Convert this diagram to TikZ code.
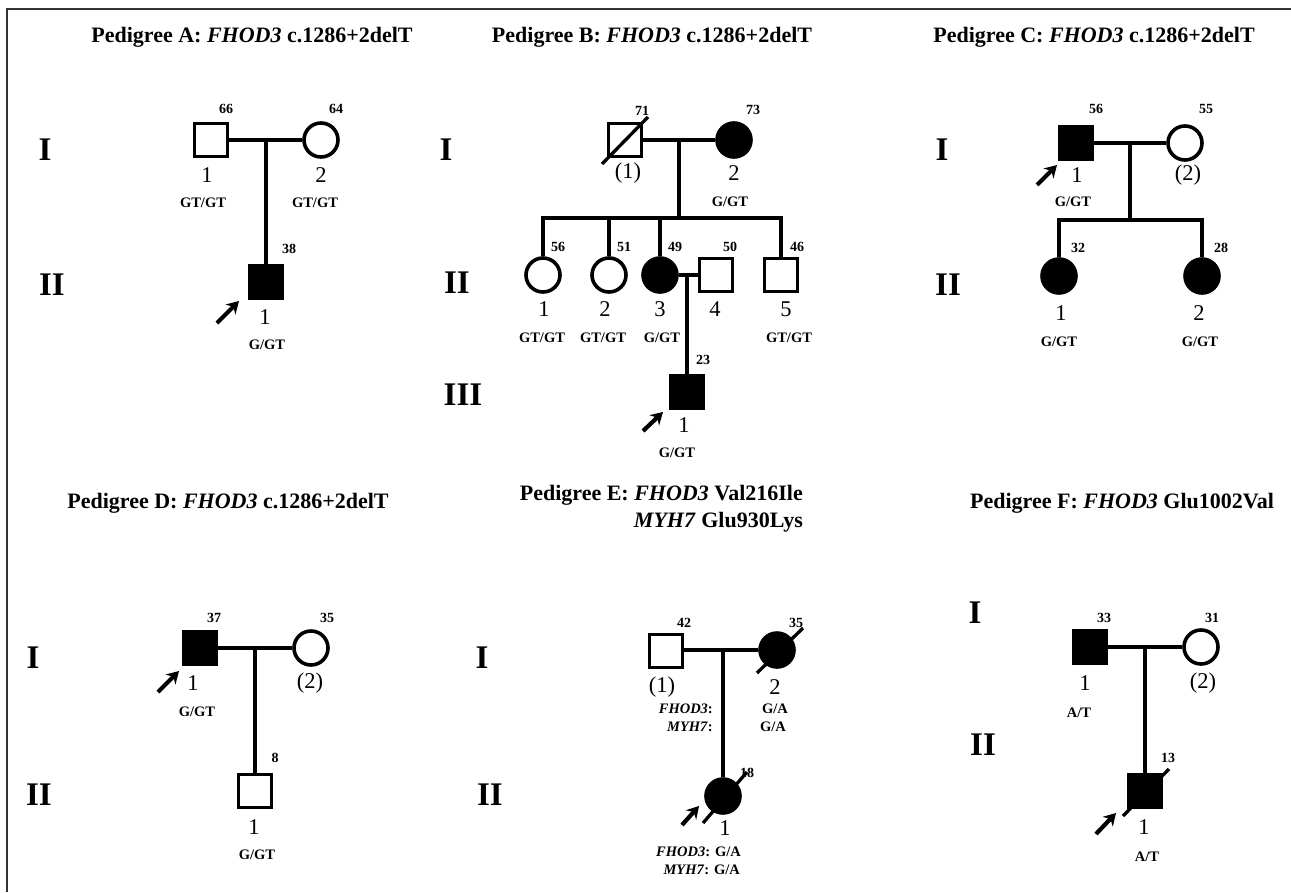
\documentclass[tikz,border=0pt]{standalone}
\usepackage{fontspec}
\setmainfont{Liberation Serif}
\usetikzlibrary{arrows.meta}
\begin{document}
\begin{tikzpicture}[x=1pt,y=-1pt,
  ml/.style={draw, rectangle, minimum size=33pt, line width=3.6pt, inner sep=0pt},
  fm/.style={draw, circle, minimum size=34pt, line width=3.6pt, inner sep=0pt},
  aff/.style={fill=black},
  ln/.style={line width=3.3pt},
  age/.style={font=\fontsize{14}{14}\selectfont\bfseries, inner sep=0pt},
  gt/.style={font=\fontsize{14.5}{14.5}\selectfont\bfseries, inner sep=0pt},
  num/.style={font=\fontsize{22.5}{22.5}\selectfont, inner sep=0pt},
  gen/.style={font=\fontsize{33}{33}\selectfont\bfseries, inner sep=0pt},
  ttl/.style={font=\fontsize{22}{22}\selectfont\bfseries, inner sep=0pt},
  prob/.style={line width=4.2pt, -{Stealth[length=12pt,width=14pt]}},
  frame/.style={line width=2.5pt, draw=black!80}]
\useasboundingbox (0,0) rectangle (1291,892);
% frame
\coordinate (f1) at (7,892); \coordinate (f2) at (7,9); \coordinate (f3) at (1291,9);
\draw[frame] (f1) -- (f2) -- (f3);

% ================= Pedigree A
\node[ttl] (tA) at (252,37) {Pedigree A: \textit{FHOD3} c.1286+2delT};
\node[gen] (gAI) at (45,150) {I};
\node[gen] (gAII) at (52,285) {II};
\node[ml] (A1) at (211,140) {};
\node[fm] (A2) at (321,140) {};
\node[ml,aff] (A3) at (266,282) {};
\draw[ln] (A1) -- (A2);
\coordinate (Am) at (266,140);
\draw[ln] (Am) -- (A3);
\node[age] (aA1) at (226,109) {66};
\node[age] (aA2) at (336,109) {64};
\node[age] (aA3) at (289,249) {38};
\node[num] (nA1) at (207,175) {1};
\node[num] (nA2) at (321,175) {2};
\node[num] (nA3) at (265,317) {1};
\node[gt] (gA1) at (203,203) {GT/GT};
\node[gt] (gA2) at (315,203) {GT/GT};
\node[gt] (gA3) at (267,345) {G/GT};
\coordinate (pA0) at (217,323); \coordinate (pA1) at (239,301);
\draw[prob] (pA0) -- (pA1);

% ================= Pedigree B
\node[ttl] (tB) at (652,37) {Pedigree B: \textit{FHOD3} c.1286+2delT};
\node[gen] (gBI) at (446,150) {I};
\node[gen] (gBII) at (457,283) {II};
\node[gen] (gBIII) at (463,395) {III};
\node[ml] (B11) at (625,140) {};
\node[fm,aff] (B12) at (734,140) {};
\coordinate (sB0) at (602,164); \coordinate (sB1) at (648,117);
\draw[ln] (sB0) -- (sB1);
\draw[ln] (B11) -- (B12);
\coordinate (Bm) at (679,140);
\coordinate (Bs) at (679,218);
\draw[ln] (Bm) -- (Bs);
\node[fm] (B21) at (543,275) {};
\node[fm] (B22) at (609,275) {};
\node[fm,aff] (B23) at (660,275) {};
\node[ml] (B24) at (716,275) {};
\node[ml] (B25) at (781,275) {};
\draw[ln] (B21) -- (B21|-Bs) -- (B25|-Bs) -- (B25);
\draw[ln] (B22|-Bs) -- (B22);
\draw[ln] (B23|-Bs) -- (B23);
\draw[ln] (B23) -- (B24);
\coordinate (Bm2) at (687,275);
\node[ml,aff] (B31) at (687,392) {};
\draw[ln] (Bm2) -- (B31);
\node[age] (aB11) at (642,111) {71};
\node[age] (aB12) at (753,110) {73};
\node[num] (nB11) at (628,173) {(1)};
\node[num] (nB12) at (734,173) {2};
\node[gt] (gB12) at (730,202) {G/GT};
\node[age] (aB21) at (558,247) {56};
\node[age] (aB22) at (624,247) {51};
\node[age] (aB23) at (675,247) {49};
\node[age] (aB24) at (730,247) {50};
\node[age] (aB25) at (797,247) {46};
\node[num] (nB21) at (544,309) {1};
\node[num] (nB22) at (605,309) {2};
\node[num] (nB23) at (660,309) {3};
\node[num] (nB24) at (715,309) {4};
\node[num] (nB25) at (786,309) {5};
\node[gt] (gB21) at (542,338) {GT/GT};
\node[gt] (gB22) at (603,338) {GT/GT};
\node[gt] (gB23) at (662,338) {G/GT};
\node[gt] (gB25) at (789,338) {GT/GT};
\node[age] (aB31) at (703,360) {23};
\node[num] (nB31) at (684,425) {1};
\node[gt] (gB31) at (677,453) {G/GT};
\coordinate (pB0) at (643,431); \coordinate (pB1) at (663,412);
\draw[prob] (pB0) -- (pB1);

% ================= Pedigree C
\node[ttl] (tC) at (1094,37) {Pedigree C: \textit{FHOD3} c.1286+2delT};
\node[gen] (gCI) at (942,150) {I};
\node[gen] (gCII) at (948,285) {II};
\node[ml,aff] (C1) at (1076,143) {};
\node[fm] (C2) at (1185,143) {};
\draw[ln] (C1) -- (C2);
\coordinate (Cm) at (1130,143);
\coordinate (Cs) at (1130,220);
\draw[ln] (Cm) -- (Cs);
\node[fm,aff] (C21) at (1059,276) {};
\node[fm,aff] (C22) at (1202,276) {};
\draw[ln] (C21) -- (C21|-Cs) -- (C22|-Cs) -- (C22);
\node[age] (aC1) at (1096,109) {56};
\node[age] (aC2) at (1206,109) {55};
\node[age] (aC21) at (1078,248) {32};
\node[age] (aC22) at (1221,248) {28};
\node[num] (nC1) at (1077,175) {1};
\node[num] (nC2) at (1188,175) {(2)};
\node[gt] (gC1) at (1073,202) {G/GT};
\node[num] (nC21) at (1061,313) {1};
\node[num] (nC22) at (1199,313) {2};
\node[gt] (gC21) at (1059,342) {G/GT};
\node[gt] (gC22) at (1200,342) {G/GT};
\coordinate (pC0) at (1037,185); \coordinate (pC1) at (1057,165);
\draw[prob] (pC0) -- (pC1);

% ================= Pedigree D
\node[ttl] (tD) at (228,503) {Pedigree D: \textit{FHOD3} c.1286+2delT};
\node[gen] (gDI) at (33,658) {I};
\node[gen] (gDII) at (39,795) {II};
\node[ml,aff] (D1) at (200,648) {};
\node[fm] (D2) at (311,648) {};
\draw[ln] (D1) -- (D2);
\coordinate (Dm) at (255,648);
\node[ml] (D3) at (255,791) {};
\draw[ln] (Dm) -- (D3);
\node[age] (aD1) at (214,618) {37};
\node[age] (aD2) at (327,618) {35};
\node[age] (aD3) at (275,758) {8};
\node[num] (nD1) at (193,683) {1};
\node[num] (nD2) at (310,683) {(2)};
\node[gt] (gD1) at (197,712) {G/GT};
\node[num] (nD3) at (254,827) {1};
\node[gt] (gD3) at (257,855) {G/GT};
\coordinate (pD0) at (158,692); \coordinate (pD1) at (179,671);
\draw[prob] (pD0) -- (pD1);

% ================= Pedigree E
\node[ttl, anchor=east] (tE1) at (803,495) {Pedigree E: \textit{FHOD3} Val216Ile};
\node[ttl, anchor=east] (tE2) at (803,522) {\textit{MYH7} Glu930Lys};
\node[gen] (gEI) at (482,658) {I};
\node[gen] (gEII) at (490,795) {II};
\node[ml] (E1) at (666,651) {};
\node[fm,aff] (E2) at (777,650) {};
\coordinate (sE0) at (757,673); \coordinate (sE1) at (803,628);
\draw[ln] (sE0) -- (sE1);
\coordinate (Em) at (723,650);
\coordinate (E1r) at (E1.east|-Em);
\draw[ln] (E1r) -- (E2);
\node[fm,aff] (E3) at (723,796) {};
\coordinate (sE2) at (703,823); \coordinate (sE3) at (747,772);
\draw[ln] (sE2) -- (sE3);
\draw[ln] (Em) -- (E3);
\node[age] (aE1) at (684,623) {42};
\node[age] (aE2) at (796,623) {35};
\node[age] (aE3) at (747,773) {18};
\node[num] (nE1) at (662,687) {(1)};
\node[num] (nE2) at (775,687) {2};
\node[gt, anchor=east] (gE1a) at (713,709) {\textit{FHOD3}:};
\node[gt, anchor=east] (gE1b) at (713,727) {\textit{MYH7}:};
\node[gt] (gE2a) at (775,709) {G/A};
\node[gt] (gE2b) at (773,727) {G/A};
\node[num] (nE3) at (725,828) {1};
\node[gt, anchor=east] (gE3a) at (741,852) {\textit{FHOD3}: G/A};
\node[gt, anchor=east] (gE3b) at (740,870) {\textit{MYH7}: G/A};
\coordinate (pE0) at (682,825); \coordinate (pE1) at (699,806);
\draw[prob] (pE0) -- (pE1);

% ================= Pedigree F
\node[ttl] (tF) at (1122,503) {Pedigree F: \textit{FHOD3} Glu1002Val};
\node[gen] (gFI) at (975,613) {I};
\node[gen] (gFII) at (983,745) {II};
\node[ml,aff] (F1) at (1090,647) {};
\node[fm] (F2) at (1201,647) {};
\draw[ln] (F1) -- (F2);
\coordinate (Fm) at (1145,647);
\node[ml,aff] (F3) at (1145,791) {};
\draw[ln] (Fm) -- (F3);
\coordinate (sF0) at (1123,816); \coordinate (sF1) at (1169,769);
\draw[ln] (sF0) -- (sF1);
\node[age] (aF1) at (1104,618) {33};
\node[age] (aF2) at (1212,618) {31};
\node[age] (aF3) at (1168,758) {13};
\node[num] (nF1) at (1085,683) {1};
\node[num] (nF2) at (1203,683) {(2)};
\node[gt] (gF1) at (1079,713) {A/T};
\node[num] (nF3) at (1144,827) {1};
\node[gt] (gF3) at (1147,857) {A/T};
\coordinate (pF0) at (1096,834); \coordinate (pF1) at (1116,813);
\draw[prob] (pF0) -- (pF1);
\end{tikzpicture}
\end{document}
